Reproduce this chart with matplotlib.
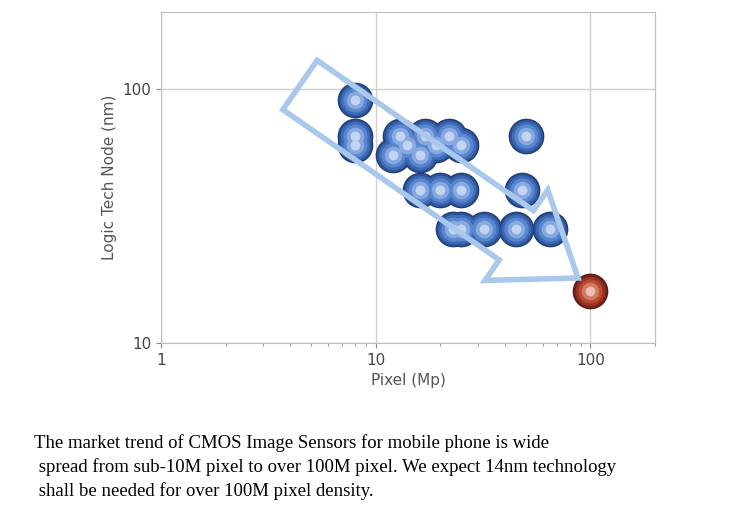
import matplotlib
matplotlib.use("Agg")
import matplotlib.pyplot as plt
from matplotlib.patches import FancyArrow

# Pixel density (Mp) vs logic tech node (nm)
pixel_mp = [8, 8, 8, 12, 13, 14, 16, 17, 19, 22, 25, 16, 20, 25, 23, 25, 32, 45, 65, 48, 50]
node_nm = [90, 65, 60, 55, 65, 60, 55, 65, 60, 65, 60, 40, 40, 40, 28, 28, 28, 28, 28, 40, 65]
future_mp = [100]
future_nm = [16]

fig = plt.figure(figsize=(7.5, 5.23), dpi=100)
ax = fig.add_axes([161 / 750, 1 - 343 / 523, 494 / 750, 331 / 523])
ax.set_xscale("log")
ax.set_yscale("log")
ax.set_xlim(1, 200)
ax.set_ylim(10, 200)
ax.grid(True, which="major", color="#d0d0d0", lw=1)
ax.set_axisbelow(True)
for s in ax.spines.values():
    s.set_color("#bfbfbf")
ax.set_xticks([1, 10, 100])
ax.set_xticklabels(["1", "10", "100"])
ax.set_yticks([10, 100])
ax.set_yticklabels(["10", "100"])
ax.tick_params(which="both", colors="#888888", labelcolor="#444444", labelsize=11)
ax.tick_params(axis="y", which="minor", length=0)
ax.set_xlabel("Pixel (Mp)", color="#555555", fontsize=11)
ax.set_ylabel("Logic Tech Node (nm)", color="#555555", fontsize=11)

# hollow trend arrow (figure inches)
arrow = FancyArrow(3.0, 4.38, 2.78, -1.93, width=0.6, head_width=1.1, head_length=0.75,
                   length_includes_head=True, transform=fig.dpi_scale_trans,
                   facecolor="none", edgecolor="#a9c8ec", lw=4, zorder=1)
fig.patches.append(arrow)

# shaded spheres
blues = ["#1f3d7a", "#2f5597", "#3e6bb8", "#5a86cf", "#86a9e0", "#c3d4f2"]
reds = ["#5a1a14", "#7a2418", "#9a3322", "#b94a34", "#d37a65", "#efbcb0"]
sizes = [660, 560, 440, 300, 160, 50]
for c, s in zip(blues, sizes):
    ax.scatter(pixel_mp, node_nm, s=s, color=c, lw=0, zorder=3)
for c, s in zip(reds, sizes):
    ax.scatter(future_mp, future_nm, s=s, color=c, lw=0, zorder=3)

fig.text(0.045, 0.17,
         "The market trend of CMOS Image Sensors for mobile phone is wide\n"
         " spread from sub-10M pixel to over 100M pixel. We expect 14nm technology\n"
         " shall be needed for over 100M pixel density.",
         family="Liberation Serif", fontsize=13.5, va="top", linespacing=1.45)
fig.savefig("out.png", dpi=100)
